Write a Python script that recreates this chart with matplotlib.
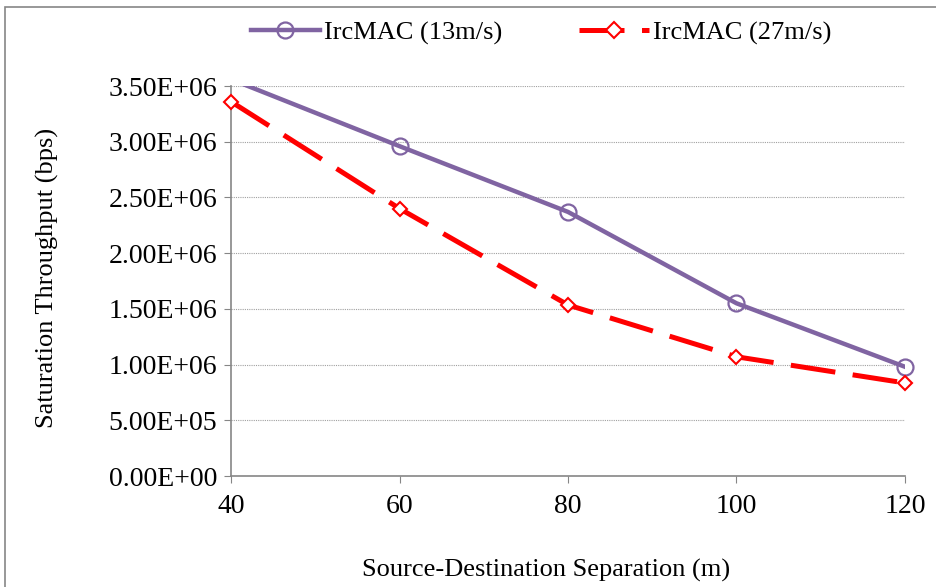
import matplotlib
matplotlib.use('Agg')
import matplotlib.pyplot as plt
from matplotlib.patches import Rectangle

plt.rcParams['font.family'] = ['Liberation Serif', 'DejaVu Serif']

separation = [40, 60, 80, 100, 120]
thr_13 = [3.56e6, 2.96e6, 2.37e6, 1.55e6, 0.98e6]
thr_27 = [3.36e6, 2.40e6, 1.535e6, 1.07e6, 0.835e6]
y_ticks = [0, 0.5e6, 1.0e6, 1.5e6, 2.0e6, 2.5e6, 3.0e6, 3.5e6]

fig = plt.figure(figsize=(9.37, 5.87), dpi=100)
W, H = 937, 587
ax = fig.add_axes([231 / W, 1 - 476 / H, (905 - 231) / W, (476 - 86) / H])

# outer chart frame (runs off right/bottom edges)
fig.patches.append(Rectangle((5 / W, -0.1), 1.2, 1 - 7 / H + 0.1,
                             transform=fig.transFigure, fill=False,
                             edgecolor='#868686', lw=1.2))

purple = '#8064A2'
red = '#FF0000'
# lines clipped to the plot area, markers drawn on top without clipping
ax.plot(separation, thr_13, '-', color=purple, lw=3.2, zorder=3)
ax.plot(separation, thr_27, '-', color=red, lw=3.6, dashes=(9, 3.5), zorder=3)
ax.plot(separation[1:], thr_13[1:], 'o', ms=11.5, mfc='none', mec=purple,
        mew=1.6, zorder=4, clip_on=False)
ax.plot(separation, thr_27, 'D', ms=7.5, mfc='white', mec=red,
        mew=1.5, zorder=4, clip_on=False)

# legend handles
ax.plot([], [], '-', color=purple, lw=3.2, marker='o', ms=11.5, mfc='none',
        mec=purple, mew=1.6, label='IrcMAC (13m/s)')
ax.plot([], [], '-', color=red, lw=3.6, dashes=(9, 3.5), marker='D', ms=8,
        mfc='white', mec=red, mew=1.5, label='IrcMAC (27m/s)')

ax.set_xlim(40, 120)
ax.set_ylim(0, 3.5e6)
ax.set_xticks(separation)
ax.set_yticks(y_ticks)
ax.set_yticklabels(['%.2E' % v for v in y_ticks])
ax.tick_params(labelsize=20, length=5, color='#868686', pad=5)
ax.tick_params(axis='x', pad=8)
ax.grid(axis='y', linestyle=(0, (1, 1)), color='#A0A0A0', lw=0.8)
ax.set_axisbelow(True)
for s in ['top', 'right']:
    ax.spines[s].set_visible(False)
for s in ['left', 'bottom']:
    ax.spines[s].set_color('#868686')
    ax.spines[s].set_linewidth(1.2)

fig.text(47 / W, 1 - 278 / H, 'Saturation Throughput (bps)', rotation=90,
         ha='center', va='center', fontsize=19)
fig.text(546 / W, 1 - 570 / H, 'Source-Destination Separation (m)',
         ha='center', va='center', fontsize=19)

fig.legend(loc='center', bbox_to_anchor=(541 / W, 1 - 33 / H), ncol=2,
           frameon=False, fontsize=19, handlelength=2.65, columnspacing=2.9,
           handletextpad=0.15)

fig.savefig('out.png', dpi=100)
